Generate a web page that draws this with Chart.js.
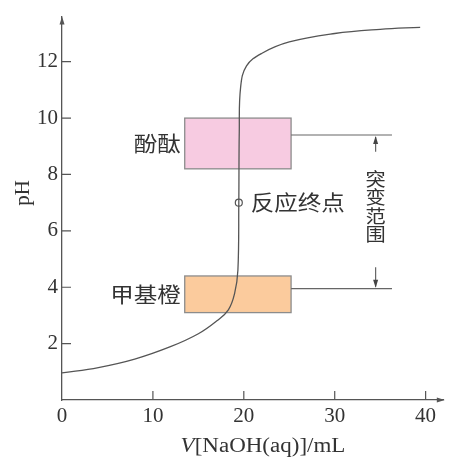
<!DOCTYPE html>
<html>
<head>
<meta charset="utf-8">
<script src="https://cdn.jsdelivr.net/npm/chart.js@4.4.0/dist/chart.umd.min.js"></script>
<style>
  html, body { margin: 0; padding: 0; background: #fff; }
</style>
</head>
<body>
<canvas id="chart" width="449" height="458"></canvas>
<script>
// titration curve
const volume = [0, 4, 8, 12, 15, 17, 18.3, 19, 19.35, 19.45, 19.5, 19.65, 20.3, 22, 25, 30, 35, 39.4]
const pH = [0.96, 1.15, 1.45, 1.9, 2.35, 2.8, 3.2, 3.8, 4.6, 7.0, 9.5, 11.1, 11.85, 12.3, 12.7, 13.0, 13.15, 13.22]

// equivalence point
const endVolume = [19.45]
const endPH = [7.0]
const endLabel = "反应终点"

// tick labels
const xTicks = [0, 10, 20, 30, 40]
const yTicks = [2, 4, 6, 8, 10, 12]

// indicator colour-change ranges
const indicatorNames = ["酚酞", "甲基橙"]
const indicatorLow = [8.2, 3.1]
const indicatorHigh = [10.0, 4.4]
const indicatorFrom = [13.5, 13.5]
const indicatorTo = [25.2, 25.2]
const indicatorFill = ["#f7cbe1", "#fbcb9d"]

// pH jump range
const jumpLow = 3.95
const jumpHigh = 9.4
const jumpLabel = "突变范围"

const xTitleItalic = "V"
const xTitleRest = "[NaOH(aq)]/mL"
const yTitle = "pH"

const cjkFont = '"Noto Sans CJK SC", sans-serif'
const serifFont = '"Liberation Serif", "DejaVu Serif", serif'
const stretch = 1.12

// text with a slight horizontal stretch, like the scanned figure
function wideText(ctx, text, x, y, align) {
  ctx.save()
  ctx.translate(x, y)
  ctx.scale(stretch, 1)
  ctx.textAlign = align
  ctx.textBaseline = "middle"
  ctx.fillText(text, 0, 0)
  ctx.restore()
}

function arrowHead(ctx, x, y, dir) {
  ctx.beginPath()
  if (dir === "up") {
    ctx.moveTo(x, y)
    ctx.lineTo(x - 2.5, y + 8)
    ctx.lineTo(x + 2.5, y + 8)
  } else if (dir === "down") {
    ctx.moveTo(x, y)
    ctx.lineTo(x - 2.5, y - 8)
    ctx.lineTo(x + 2.5, y - 8)
  } else {
    ctx.moveTo(x, y)
    ctx.lineTo(x - 8, y - 2.5)
    ctx.lineTo(x - 8, y + 2.5)
  }
  ctx.closePath()
  ctx.fill()
}

const figureParts = {
  id: "figureParts",
  beforeDatasetsDraw(chart) {
    const { ctx } = chart
    const xs = chart.scales.x
    const ys = chart.scales.y
    ctx.save()

    // indicator boxes and their labels
    indicatorNames.forEach((name, i) => {
      const left = xs.getPixelForValue(indicatorFrom[i])
      const right = xs.getPixelForValue(indicatorTo[i])
      const top = ys.getPixelForValue(indicatorHigh[i])
      const bottom = ys.getPixelForValue(indicatorLow[i])
      ctx.fillStyle = indicatorFill[i]
      ctx.fillRect(left, top, right - left, bottom - top)
      ctx.strokeStyle = "#8c8c8c"
      ctx.lineWidth = 1.3
      ctx.strokeRect(left, top, right - left, bottom - top)
      ctx.fillStyle = "#333"
      ctx.font = "21px " + cjkFont
      wideText(ctx, name, left - 4, (top + bottom) / 2, "right")
    })

    // jump range lines and arrows
    const lineFrom = xs.getPixelForValue(indicatorTo[0])
    const lineTo = xs.getPixelForValue(36.3)
    const ax = xs.getPixelForValue(34.5)
    const yHi = ys.getPixelForValue(jumpHigh)
    const yLo = ys.getPixelForValue(jumpLow)
    ctx.strokeStyle = "#666"
    ctx.fillStyle = "#444"
    ctx.lineWidth = 1.2
    ctx.beginPath()
    ctx.moveTo(lineFrom, yHi)
    ctx.lineTo(lineTo, yHi)
    ctx.moveTo(xs.getPixelForValue(indicatorTo[1]), yLo)
    ctx.lineTo(lineTo, yLo)
    const mid = (yHi + yLo) / 2
    const first = mid - 33
    const pitch = 18.5
    const last = first + pitch * (jumpLabel.length - 1)
    ctx.moveTo(ax, yHi + 2)
    ctx.lineTo(ax, first - 27)
    ctx.moveTo(ax, last + 33)
    ctx.lineTo(ax, yLo - 2)
    ctx.stroke()
    arrowHead(ctx, ax, yHi + 1, "up")
    arrowHead(ctx, ax, yLo - 1, "down")

    ctx.fillStyle = "#333"
    ctx.font = "18px " + cjkFont
    Array.from(jumpLabel).forEach((ch, i) => {
      wideText(ctx, ch, ax, first + i * pitch, "center")
    })

    // equivalence point label
    ctx.font = "21px " + cjkFont
    wideText(ctx, endLabel, xs.getPixelForValue(endVolume[0]) + 12, ys.getPixelForValue(endPH[0]) - 1, "left")
    ctx.restore()
  },
  afterDraw(chart) {
    const { ctx } = chart
    const xs = chart.scales.x
    const ys = chart.scales.y
    ctx.save()
    ctx.strokeStyle = "#555"
    ctx.fillStyle = "#555"
    ctx.lineWidth = 1.2

    // inward tick marks
    ctx.beginPath()
    xs.ticks.forEach((t) => {
      if (t.value === 0) return
      const px = xs.getPixelForValue(t.value)
      ctx.moveTo(px, xs.top)
      ctx.lineTo(px, xs.top - 9)
    })
    ys.ticks.forEach((t) => {
      const py = ys.getPixelForValue(t.value)
      ctx.moveTo(ys.right, py)
      ctx.lineTo(ys.right + 9, py)
    })
    ctx.stroke()

    // axis arrows
    arrowHead(ctx, ys.right, chart.chartArea.top, "up")
    arrowHead(ctx, chart.chartArea.right + 1, xs.top, "right")

    // axis titles
    ctx.fillStyle = "#333"
    ctx.font = "italic 20px " + serifFont
    const wV = ctx.measureText(xTitleItalic).width
    ctx.font = "20px " + serifFont
    const wRest = ctx.measureText(xTitleRest).width
    const cx = 263
    const startX = cx - ((wV + wRest) * 1.15) / 2
    ctx.save()
    ctx.translate(startX, 447)
    ctx.scale(1.15, 1)
    ctx.textAlign = "left"
    ctx.textBaseline = "middle"
    ctx.font = "italic 20px " + serifFont
    ctx.fillText(xTitleItalic, 0, 0)
    ctx.font = "20px " + serifFont
    ctx.fillText(xTitleRest, wV, 0)
    ctx.restore()

    ctx.save()
    ctx.translate(23, 193)
    ctx.rotate(-Math.PI / 2)
    ctx.font = "21px " + serifFont
    ctx.textAlign = "center"
    ctx.textBaseline = "middle"
    ctx.fillText(yTitle, 0, 0)
    ctx.restore()

    ctx.restore()
  }
}

const ctx = document.getElementById("chart").getContext("2d")
const chart = new Chart(ctx, {
  type: "scatter",
  data: {
    datasets: [
      {
        data: volume.map((v, i) => ({ x: v, y: pH[i] })),
        showLine: true,
        borderColor: "#555",
        borderWidth: 1.3,
        pointRadius: 0,
        tension: 0.4,
        fill: false,
      },
      {
        data: endVolume.map((v, i) => ({ x: v, y: endPH[i] })),
        showLine: false,
        pointRadius: 3.5,
        pointBackgroundColor: "#fff",
        pointBorderColor: "#555",
        pointBorderWidth: 1.2,
      },
    ],
  },
  options: {
    responsive: false,
    animation: false,
    layout: {
      padding: { top: 16, right: 2, left: 0, bottom: 0 },
    },
    scales: {
      x: {
        type: "linear",
        min: 0,
        max: 42,
        afterBuildTicks: (scale) => {
          scale.ticks = xTicks.map((v) => ({ value: v }))
        },
        afterFit: (scale) => {
          scale.height = 58
        },
        grid: { display: false, drawTicks: false },
        border: { display: true, color: "#555", width: 1.3 },
        ticks: {
          padding: 4,
          color: "#333",
          font: { family: serifFont, size: 21 },
          maxRotation: 0,
          autoSkip: false,
        },
      },
      y: {
        type: "linear",
        min: 0,
        max: 13.6,
        afterBuildTicks: (scale) => {
          scale.ticks = yTicks.map((v) => ({ value: v }))
        },
        afterFit: (scale) => {
          scale.width = 62
        },
        grid: { display: false, drawTicks: false },
        border: { display: true, color: "#555", width: 1.3 },
        ticks: {
          padding: 4,
          color: "#333",
          font: { family: serifFont, size: 21 },
          autoSkip: false,
        },
      },
    },
    plugins: {
      legend: { display: false },
      tooltip: { enabled: false },
    },
  },
  plugins: [figureParts],
})
</script>
</body>
</html>
